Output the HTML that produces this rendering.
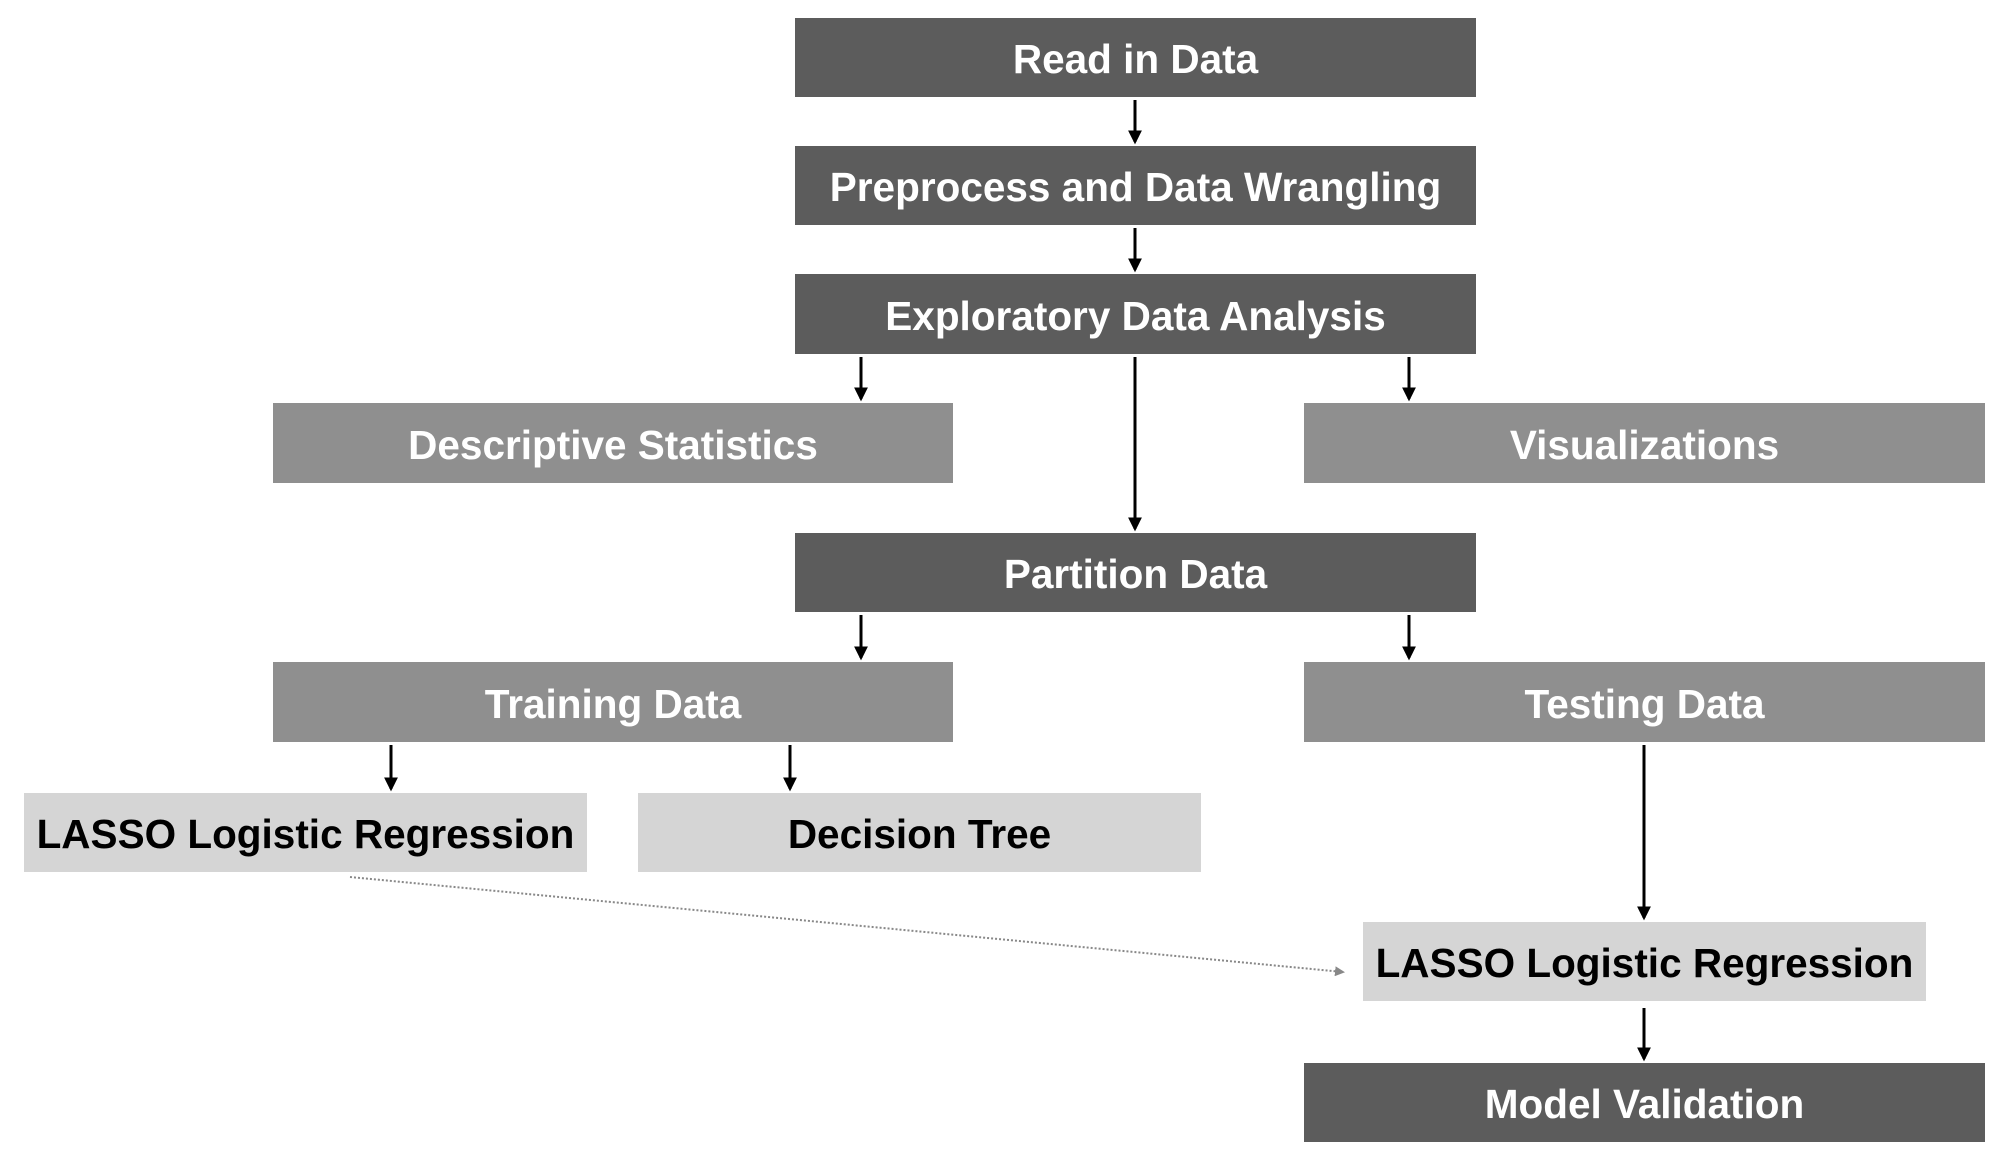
<!DOCTYPE html>
<html><head><style>
body{margin:0;width:2008px;height:1164px;background:#fff;position:relative;overflow:hidden;font-family:"Liberation Sans",Arial,sans-serif;}
.b{position:absolute;display:flex;align-items:center;justify-content:center;font-weight:bold;font-size:40.5px;box-sizing:border-box;padding-top:4px;}
.d{background:#5c5c5c;color:#fff}
.m{background:#8f8f8f;color:#fff}
.l{background:#d5d5d5;color:#000}
svg{position:absolute;left:0;top:0}
</style></head><body>
<div class="b d" style="left:795px;top:18px;width:681px;height:79px">Read in Data</div>
<div class="b d" style="left:795px;top:146px;width:681px;height:79px">Preprocess and Data Wrangling</div>
<div class="b d" style="left:795px;top:274px;width:681px;height:80px">Exploratory Data Analysis</div>
<div class="b m" style="left:273px;top:403px;width:680px;height:80px">Descriptive Statistics</div>
<div class="b m" style="left:1304px;top:403px;width:681px;height:80px">Visualizations</div>
<div class="b d" style="left:795px;top:533px;width:681px;height:79px">Partition Data</div>
<div class="b m" style="left:273px;top:662px;width:680px;height:80px">Training Data</div>
<div class="b m" style="left:1304px;top:662px;width:681px;height:80px">Testing Data</div>
<div class="b l" style="left:24px;top:793px;width:563px;height:79px">LASSO Logistic Regression</div>
<div class="b l" style="left:638px;top:793px;width:563px;height:79px">Decision Tree</div>
<div class="b l" style="left:1363px;top:922px;width:563px;height:79px">LASSO Logistic Regression</div>
<div class="b d" style="left:1304px;top:1063px;width:681px;height:79px">Model Validation</div>
<svg width="2008" height="1164">
<defs><marker id="a" markerWidth="14" markerHeight="14" refX="10" refY="6" orient="auto" markerUnits="userSpaceOnUse" viewBox="0 0 12 12"><path d="M0,0 L12,6 L0,12z" fill="#000"/></marker>
<marker id="g" markerWidth="10" markerHeight="10" refX="8" refY="5" orient="auto" markerUnits="userSpaceOnUse" viewBox="0 0 10 10"><path d="M0,0 L10,5 L0,10z" fill="#888"/></marker></defs>
<g stroke="#000" stroke-width="3" marker-end="url(#a)">
<line x1="1135" y1="100" x2="1135" y2="142"/>
<line x1="1135" y1="228" x2="1135" y2="270"/>
<line x1="861" y1="357" x2="861" y2="399"/>
<line x1="1409" y1="357" x2="1409" y2="399"/>
<line x1="1135" y1="357" x2="1135" y2="529"/>
<line x1="861" y1="615" x2="861" y2="658"/>
<line x1="1409" y1="615" x2="1409" y2="658"/>
<line x1="391" y1="745" x2="391" y2="789"/>
<line x1="790" y1="745" x2="790" y2="789"/>
<line x1="1644" y1="745" x2="1644" y2="918"/>
<line x1="1644" y1="1008" x2="1644" y2="1059"/>
</g>
<line x1="350" y1="877" x2="1343" y2="972" stroke="#888" stroke-width="2" stroke-dasharray="2,2" marker-end="url(#g)"/>
</svg>
</body></html>
